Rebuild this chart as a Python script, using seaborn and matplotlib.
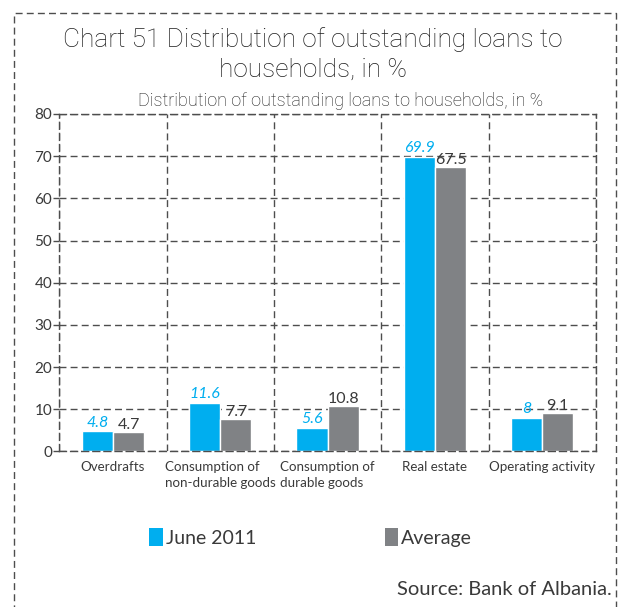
import matplotlib
matplotlib.use("Agg")
import matplotlib.pyplot as plt
from matplotlib.patches import Rectangle, Patch
import seaborn as sns
import pandas as pd

# Loan categories and the two series shown per category (percent of total)
categories = ["Overdrafts", "Consumption of\nnon-durable goods",
              "Consumption of\ndurable goods", "Real estate", "Operating activity"]
june_2011 = [4.8, 11.6, 5.6, 69.9, 8.0]
average = [4.7, 7.7, 10.8, 67.5, 9.1]
june_labels = ["4.8", "11.6", "5.6", "69.9", "8"]
average_labels = ["4.7", "7.7", "10.8", "67.5", "9.1"]
series_names = ["June 2011", "Average"]
y_ticks = [0, 10, 20, 30, 40, 50, 60, 70, 80]

BLUE = "#00AEEF"
GREY = "#808285"
TEXT = "#3a3a3a"
GRID = "#4d4d4d"
DASH = (0, (5, 3))

df = pd.DataFrame({
    "category": categories * 2,
    "value": june_2011 + average,
    "series": [series_names[0]] * len(categories) + [series_names[1]] * len(categories),
})

sns.set_theme(style="white")
plt.rcParams["font.family"] = ["Lato", "DejaVu Sans"]

fig = plt.figure(figsize=(6.22, 6.07), dpi=100)
ax = fig.add_axes([0.0953, 0.2562, 0.8627, 0.5560])

sns.barplot(data=df, x="category", y="value", hue="series",
            palette=[BLUE, GREY], width=0.58, dodge=True,
            saturation=1, legend=False, ax=ax)

ax.set_xlim(-0.5, len(categories) - 0.5)
ax.set_ylim(0, 80)
ax.set_yticks(y_ticks)
ax.set_yticklabels([str(t) for t in y_ticks], fontsize=11, color=TEXT)
ax.set_xlabel("")
ax.set_ylabel("")

# Dashed grid: horizontal at each 10, vertical at category boundaries
ax.set_xticks([i - 0.5 for i in range(len(categories) + 1)], minor=True)
ax.grid(True, axis="y", which="major", color=GRID, linestyle=DASH, linewidth=1.0)
ax.grid(True, axis="x", which="minor", color=GRID, linestyle=DASH, linewidth=1.0)
ax.set_axisbelow(True)
for spine in ax.spines.values():
    spine.set_visible(True)
    spine.set_color(GRID)
    spine.set_linestyle(DASH)
    spine.set_linewidth(1.0)

ax.tick_params(axis="y", which="major", left=True, length=4, width=1, color=GRID, pad=1)
ax.tick_params(axis="x", which="both", bottom=False, length=0, pad=7)
ax.set_xticks(range(len(categories)))
ax.set_xticklabels(categories, fontsize=9.6, color=TEXT, linespacing=1.4)
for lab in ax.get_xticklabels():
    lab.set_multialignment("left")
    lab.set_verticalalignment("top")

# Value labels over the bars
ax.bar_label(ax.containers[0], labels=june_labels, padding=1, fontsize=11.5,
             color=BLUE, fontstyle="italic")
ax.bar_label(ax.containers[1], labels=average_labels, padding=0, fontsize=11.5,
             color=TEXT)

# Titles in a light face
fig.text(0.503, 0.910, "Chart 51 Distribution of outstanding loans to\nhouseholds, in %",
         ha="center", va="center", fontsize=18.9, color="#1e1e1e",
         family=["Roboto", "DejaVu Sans"], fontweight="light", linespacing=1.3)
fig.text(0.548, 0.834, "Distribution of outstanding loans to households, in %",
         ha="center", va="center", fontsize=13, color="#1a1a1a",
         family=["Roboto", "DejaVu Sans"], fontweight="light")

# Legend
handles = [Patch(facecolor=BLUE, edgecolor="none"), Patch(facecolor=GREY, edgecolor="none")]
fig.legend(handles, series_names, loc="center left", bbox_to_anchor=(0.24, 0.115),
           ncol=2, frameon=False, fontsize=14, handlelength=0.7, handleheight=1.1,
           handletextpad=0.15, columnspacing=6.6, labelcolor=TEXT, borderaxespad=0,
           borderpad=0)

fig.text(0.983, 0.02, "Source: Bank of Albania.", ha="right", va="baseline",
         fontsize=14.5, color=TEXT)

# Dashed frame around the chart, running past the lower edge
fig.patches.append(Rectangle((14 / 622, -0.05), (616 - 14) / 622, 1.05 - 13 / 607,
                             transform=fig.transFigure, fill=False,
                             edgecolor=GRID, linestyle=DASH, linewidth=1.0))

fig.savefig("out.png", dpi=100)
